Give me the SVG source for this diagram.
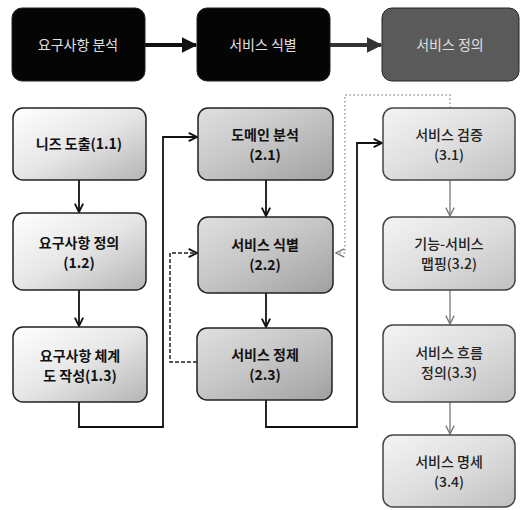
<svg xmlns="http://www.w3.org/2000/svg" width="523" height="510" viewBox="0 0 523 510">
<defs>
<linearGradient id="g1" x1="0" y1="0" x2="1" y2="1"><stop offset="0" stop-color="#ffffff"/><stop offset="0.5" stop-color="#e6e6e6"/><stop offset="1" stop-color="#b4b4b4"/></linearGradient>
<linearGradient id="g2" x1="0" y1="0" x2="1" y2="1"><stop offset="0" stop-color="#e0e0e0"/><stop offset="0.5" stop-color="#c4c4c4"/><stop offset="1" stop-color="#a0a0a0"/></linearGradient>
<linearGradient id="g3" x1="0" y1="0" x2="1" y2="1"><stop offset="0" stop-color="#f4f4f4"/><stop offset="0.5" stop-color="#dedede"/><stop offset="1" stop-color="#c0c0c0"/></linearGradient>
<marker id="big" viewBox="0 0 10 10" refX="9" refY="5" markerWidth="4" markerHeight="4" orient="auto" markerUnits="strokeWidth"><path d="M0,0 L10,5 L0,10 Z" fill="context-stroke"/></marker>
<marker id="chev" viewBox="0 0 12 12" refX="11" refY="6" markerWidth="10" markerHeight="10" orient="auto" markerUnits="userSpaceOnUse"><path d="M1,1 L11,6 L1,11" fill="none" stroke="#111" stroke-width="2.2"/></marker>
<marker id="chevg" viewBox="0 0 12 12" refX="11" refY="6" markerWidth="10" markerHeight="10" orient="auto" markerUnits="userSpaceOnUse"><path d="M1,1 L11,6 L1,11" fill="none" stroke="#777" stroke-width="1.6"/></marker>
</defs>
<style>
.top{stroke:#222;stroke-width:1}
.tt{font-family:"Noto Sans CJK KR","Noto Sans",sans-serif;font-size:14px;fill:#e0e0e0;text-anchor:middle}
.box{stroke:#222;stroke-width:1.5}
.b1{fill:url(#g1)}.b2{fill:url(#g2)}.b3{fill:url(#g3);stroke:#444}
.t{font-family:"Noto Sans CJK KR","Noto Sans",sans-serif;font-size:14px;font-weight:bold;fill:#111;text-anchor:middle}
.t3{font-family:"Noto Sans CJK KR","Noto Sans",sans-serif;font-size:14px;font-weight:500;fill:#222;text-anchor:middle}
.c{fill:none;stroke:#111;stroke-width:1.8}
.cg{fill:none;stroke:#777;stroke-width:1.3}
.d{fill:none;stroke:#222;stroke-width:1.5;stroke-dasharray:4 2}
.dt{fill:none;stroke:#999;stroke-width:1.5;stroke-dasharray:1.5 2.5}
</style>
<g id="connectors">
<line x1="145" y1="45" x2="196" y2="45" stroke="#111" stroke-width="4" marker-end="url(#big)"/>
<line x1="330" y1="45" x2="381" y2="45" stroke="#333" stroke-width="4" marker-end="url(#big)"/>
<line class="c" x1="79" y1="180" x2="79" y2="212" marker-end="url(#chev)"/>
<line class="c" x1="79" y1="290" x2="79" y2="326" marker-end="url(#chev)"/>
<polyline class="c" points="79,402 79,427 163,427 163,137 197,137" marker-end="url(#chev)"/>
<line class="c" x1="266" y1="180" x2="266" y2="216" marker-end="url(#chev)"/>
<line class="c" x1="266" y1="293" x2="266" y2="327" marker-end="url(#chev)"/>
<polyline class="d" points="197,362 170,362 170,253 197,253" marker-end="url(#chev)"/>
<polyline class="c" points="266,400 266,427 357,427 357,143 382,143" marker-end="url(#chev)"/>
<polyline class="dt" points="450,108 450,95 345,95 345,253 336,253" marker-end="url(#chevg)"/>
<line class="cg" x1="450" y1="180" x2="450" y2="216" marker-end="url(#chevg)"/>
<line class="cg" x1="450" y1="290" x2="450" y2="324" marker-end="url(#chevg)"/>
<line class="cg" x1="450" y1="402" x2="450" y2="434" marker-end="url(#chevg)"/>
</g>
<g id="p1"><rect class="top" x="12" y="8" width="133" height="73" rx="10" fill="#050505"/><text class="tt" x="78" y="50">요구사항 분석</text></g>
<g id="p2"><rect class="top" x="197" y="8" width="133" height="73" rx="10" fill="#050505"/><text class="tt" x="263" y="50">서비스 식별</text></g>
<g id="p3"><rect class="top" x="382" y="8" width="137" height="73" rx="10" fill="#5a5a5a"/><text class="tt" x="450" y="50">서비스 정의</text></g>
<g id="n11"><rect class="box b1" x="13" y="108" width="133" height="72" rx="10"/><text class="t" x="79" y="149">니즈 도출(1.1)</text></g>
<g id="n12"><rect class="box b1" x="13" y="213" width="133" height="77" rx="10"/><text class="t" x="79" y="248">요구사항 정의</text><text class="t" x="79" y="268">(1.2)</text></g>
<g id="n13"><rect class="box b1" x="13" y="327" width="134" height="75" rx="10"/><text class="t" x="80" y="361">요구사항 체계</text><text class="t" x="80" y="381">도 작성(1.3)</text></g>
<g id="n21"><rect class="box b2" x="198" y="108" width="135" height="72" rx="10"/><text class="t" x="265" y="140">도메인 분석</text><text class="t" x="265" y="160">(2.1)</text></g>
<g id="n22"><rect class="box b2" x="198" y="217" width="135" height="76" rx="10"/><text class="t" x="265" y="250">서비스 식별</text><text class="t" x="265" y="270">(2.2)</text></g>
<g id="n23"><rect class="box b2" x="197" y="328" width="135" height="72" rx="10"/><text class="t" x="265" y="360">서비스 정제</text><text class="t" x="265" y="380">(2.3)</text></g>
<g id="n31"><rect class="box b3" x="383" y="108" width="132" height="72" rx="10"/><text class="t3" x="449" y="140">서비스 검증</text><text class="t3" x="449" y="160">(3.1)</text></g>
<g id="n32"><rect class="box b3" x="383" y="217" width="132" height="73" rx="10"/><text class="t3" x="449" y="249">기능-서비스</text><text class="t3" x="449" y="269">맵핑(3.2)</text></g>
<g id="n33"><rect class="box b3" x="383" y="325" width="132" height="77" rx="10"/><text class="t3" x="449" y="358">서비스 흐름</text><text class="t3" x="449" y="378">정의(3.3)</text></g>
<g id="n34"><rect class="box b3" x="383" y="435" width="132" height="72" rx="10"/><text class="t3" x="449" y="467">서비스 명세</text><text class="t3" x="449" y="487">(3.4)</text></g>
</svg>
